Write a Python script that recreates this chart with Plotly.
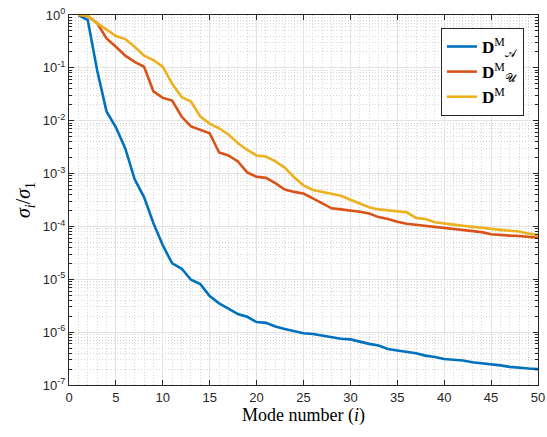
import plotly.graph_objects as go

modes = list(range(1, 51))

sv_A = [1.0, 0.8, 0.09, 0.015, 0.0075, 0.003, 7.8e-4, 3.6e-4, 1.15e-4, 4.4e-5,
        2.0e-5, 1.6e-5, 9.8e-6, 8.1e-6, 4.8e-6, 3.5e-6, 2.8e-6, 2.2e-6, 1.95e-6, 1.55e-6,
        1.5e-6, 1.28e-6, 1.15e-6, 1.05e-6, 9.5e-7, 9.2e-7, 8.5e-7, 8.0e-7, 7.5e-7, 7.3e-7,
        6.6e-7, 6.0e-7, 5.6e-7, 4.8e-7, 4.5e-7, 4.3e-7, 4.0e-7, 3.6e-7, 3.4e-7, 3.1e-7,
        3.0e-7, 2.9e-7, 2.7e-7, 2.6e-7, 2.5e-7, 2.35e-7, 2.2e-7, 2.1e-7, 2.05e-7, 2.0e-7]

sv_U = [1.0, 0.95, 0.7, 0.36, 0.25, 0.17, 0.13, 0.105, 0.036, 0.027,
        0.024, 0.012, 0.0078, 0.0068, 0.0058, 0.0025, 0.0022, 0.0017, 0.00105, 8.7e-4,
        8.3e-4, 6.6e-4, 5.0e-4, 4.5e-4, 4.2e-4, 3.4e-4, 2.7e-4, 2.2e-4, 2.1e-4, 2.0e-4,
        1.9e-4, 1.75e-4, 1.5e-4, 1.38e-4, 1.22e-4, 1.12e-4, 1.07e-4, 1.03e-4, 1.0e-4, 9.4e-5,
        9.0e-5, 8.6e-5, 8.2e-5, 7.8e-5, 7.1e-5, 6.8e-5, 6.7e-5, 6.6e-5, 6.3e-5, 6.1e-5]

sv_D = [1.0, 0.97, 0.7, 0.52, 0.4, 0.35, 0.25, 0.17, 0.14, 0.105,
        0.05, 0.028, 0.023, 0.012, 0.0088, 0.0072, 0.0055, 0.0038, 0.0028, 0.0022,
        0.0021, 0.0017, 0.0013, 8.5e-4, 6.0e-4, 4.9e-4, 4.5e-4, 4.2e-4, 3.8e-4, 3.2e-4,
        2.7e-4, 2.3e-4, 2.1e-4, 2.0e-4, 1.9e-4, 1.85e-4, 1.45e-4, 1.38e-4, 1.2e-4, 1.12e-4,
        1.08e-4, 1.03e-4, 9.8e-5, 9.3e-5, 9.0e-5, 8.6e-5, 8.3e-5, 8.0e-5, 7.3e-5, 6.9e-5]

x_ticks = list(range(0, 51, 5))
y_tickvals = [1e-7, 1e-6, 1e-5, 1e-4, 1e-3, 1e-2, 1e-1, 1]
y_ticktext = ["10<sup>-7</sup>", "10<sup>-6</sup>", "10<sup>-5</sup>", "10<sup>-4</sup>",
              "10<sup>-3</sup>", "10<sup>-2</sup>", "10<sup>-1</sup>", "10<sup>0</sup>"]

names = ["<b>D</b><sup>M</sup><sub>𝒜</sub>", "<b>D</b><sup>M</sup><sub>𝒰</sub>", "<b>D</b><sup>M</sup>"]
colors = ["#0072BD", "#D95319", "#EDB120"]

fig = go.Figure()
for ys, nm, c in zip([sv_A, sv_U, sv_D], names, colors):
    fig.add_trace(go.Scatter(x=modes, y=ys, mode="lines", name=nm,
                             line=dict(color=c, width=2.6)))

axcol = "#262626"
fig.update_layout(
    width=547, height=437,
    margin=dict(l=69, r=9, t=15, b=52),
    paper_bgcolor="white", plot_bgcolor="white",
    font=dict(family="Liberation Sans, Arial", size=13, color=axcol),
    legend=dict(x=0.97, y=0.965, xanchor="right", yanchor="top",
                bgcolor="white", bordercolor=axcol, borderwidth=1,
                font=dict(family="Liberation Serif, DejaVu Serif", size=17, color="black"),
                tracegroupgap=0),
    showlegend=True,
)
fig.update_xaxes(
    range=[0, 50], tickvals=x_ticks, ticks="inside", ticklen=5, tickcolor=axcol,
    showline=True, linecolor=axcol, linewidth=1, mirror="ticks",
    showgrid=True, gridcolor="#e3e3e3", gridwidth=1, zeroline=False, automargin=False,
    ticklabeloverflow="allow",
    minor=dict(dtick=1, showgrid=True, gridcolor="#d6d6d6", griddash="1px,2px", gridwidth=1, ticks=""),
    title=dict(text="Mode number (<i>i</i>)", standoff=4,
               font=dict(family="Liberation Serif, DejaVu Serif", size=18, color="black")),
    tickfont=dict(size=13),
)
fig.update_yaxes(
    type="log", range=[-7, 0], tickvals=y_tickvals, ticktext=y_ticktext,
    ticks="inside", ticklen=5, tickcolor=axcol,
    showline=True, linecolor=axcol, linewidth=1, mirror="ticks",
    showgrid=True, gridcolor="#e3e3e3", gridwidth=1, zeroline=False, automargin=False,
    ticklabeloverflow="allow",
    minor=dict(dtick="D1", showgrid=True, gridcolor="#d6d6d6", griddash="1px,2px", gridwidth=1,
               ticks="inside", ticklen=3, tickcolor=axcol),
    title=dict(text="<i>σ<sub>i</sub></i>/<i>σ</i><sub>1</sub>", standoff=6,
               font=dict(family="Liberation Serif, DejaVu Serif", size=20, color="black")),
    tickfont=dict(size=13),
)

fig.write_html("out.html", config={"displayModeBar": False},
               post_script="document.body.style.margin='0';document.body.style.padding='0';")
